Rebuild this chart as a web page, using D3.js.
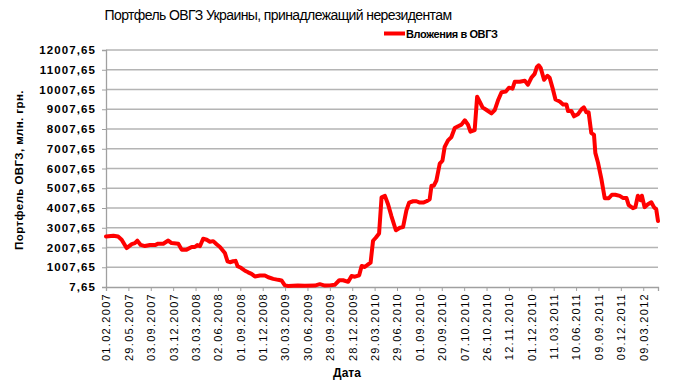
<!DOCTYPE html>
<html><head><meta charset="utf-8">
<script src="https://cdn.jsdelivr.net/npm/d3@7/dist/d3.min.js"></script>
<style>
body{margin:0;background:#fff;}
svg{display:block;font-family:"Liberation Sans",Arial,sans-serif;}
</style></head><body>
<svg id="c" width="693" height="385"></svg>
<script>
const title = "Портфель ОВГЗ Украины, принадлежащий нерезидентам";
const seriesName = "Вложения в ОВГЗ";
const yTitle = "Портфель ОВГЗ, млн. грн.";
const xTitle = "Дата";
const xLabels = ["01.02.2007","29.05.2007","03.09.2007","03.12.2007","03.03.2008","02.06.2008","01.09.2008","01.12.2008","30.03.2009","30.06.2009","28.09.2009","28.12.2009","29.03.2010","29.06.2010","01.09.2010","20.09.2010","07.10.2010","26.10.2010","12.11.2010","01.12.2010","11.03.2011","10.06.2011","09.09.2011","09.12.2011","09.03.2012"];
const yTicks = [7.65,1007.65,2007.65,3007.65,4007.65,5007.65,6007.65,7007.65,8007.65,9007.65,10007.65,11007.65,12007.65];
// position along the category axis (in label intervals) and value, mln UAH
const pos = [0,0.33,0.54,0.70,0.92,1.15,1.29,1.40,1.55,1.74,1.96,2.19,2.33,2.56,2.78,2.93,3.23,3.38,3.60,3.83,3.97,4.08,4.20,4.34,4.50,4.64,4.79,4.94,5.09,
5.31,5.43,5.54,5.68,5.79,5.88,6.03,6.21,6.35,6.50,6.65,6.88,7.10,7.25,7.47,7.69,7.84,7.99,8.14,8.57,8.88,9.33,9.55,9.78,10.00,
10.22,10.42,10.59,10.82,10.97,11.12,11.31,11.42,11.56,11.71,11.82,11.93,12.05,12.20,12.31,12.46,12.60,12.75,12.95,13.13,13.27,13.42,13.54,13.72,13.87,14.02,14.17,14.32,14.46,14.54,14.64,14.76,14.91,
15.03,15.13,15.28,15.43,15.58,15.73,15.88,16.03,16.17,16.28,16.47,16.58,16.70,16.82,17.00,17.22,17.37,17.51,17.67,17.86,18.00,18.16,18.26,18.48,18.71,18.85,19.00,19.15,19.25,19.33,
19.42,19.57,19.72,19.82,19.97,20.08,20.27,20.42,20.57,20.64,20.79,20.91,21.08,21.24,21.35,21.46,21.56,21.68,21.80,21.86,21.98,22.13,22.28,22.46,22.60,22.75,22.95,23.09,23.25,23.35,23.54,23.65,23.76,23.88,23.94,24.06,24.21,24.36,24.48,24.58,24.66];
const values = [2560,2600,2560,2400,1980,2180,2230,2350,2140,2080,2130,2130,2200,2200,2360,2230,2200,1900,1900,2030,2030,2130,2080,2450,2400,2300,2330,2170,2030,
1730,1310,1260,1310,1330,1060,980,830,750,670,540,590,590,500,420,370,340,90,60,80,70,80,150,80,90,
120,350,350,270,560,530,600,1070,1020,1150,1240,2350,2500,2720,4550,4620,4200,3600,2880,3010,3040,3890,4280,4350,4350,4280,4280,4350,4450,5130,5130,5400,6250,
6400,7100,7430,7600,8060,8150,8230,8450,8230,7870,7950,9640,9380,9100,8970,8800,8970,9450,9870,9900,10100,10050,10400,10400,10450,10250,10600,10800,11150,11230,
11100,10500,10700,10600,10000,9500,9400,9250,9250,8920,8920,8650,8750,9000,9100,8850,8850,7800,7720,6800,6300,5480,4500,4500,4680,4680,4620,4520,4520,4150,4000,4050,4630,4400,4630,4050,4200,4300,4050,3950,3350];

const svg = d3.select("#c");
const L = 106, R = 658, T = 50, B = 287;
const x = d3.scaleLinear().domain([0, d3.max(pos)]).range([L, R]);
const y = d3.scaleLinear().domain([7.65, 12007.65]).range([B, T]);
const fmt = v => d3.format(".2f")(v).replace(".", ",");

// gridlines
svg.append("g").selectAll("line").data(yTicks.slice(1)).join("line")
  .attr("x1", L).attr("x2", R).attr("y1", d => y(d)).attr("y2", d => y(d))
  .attr("stroke", "#b4b4b4").attr("stroke-width", 1.3);

// y axis
const yAxis = svg.append("g").attr("transform", `translate(${L},0)`)
  .call(d3.axisLeft(y).tickValues(yTicks).tickFormat(fmt).tickSize(4).tickPadding(6));
yAxis.select(".domain").attr("stroke", "#a0a0a0").attr("stroke-width", 1.3);
yAxis.selectAll(".tick line").attr("stroke", "#a0a0a0");
yAxis.selectAll("text").attr("font-family", "Liberation Sans, Arial, sans-serif")
  .attr("font-size", 11.5).attr("font-weight", "bold").attr("letter-spacing", 1.1).attr("fill", "#000");

// x axis
const xAxis = svg.append("g").attr("transform", `translate(0,${B})`)
  .call(d3.axisBottom(x).tickValues(d3.range(xLabels.length)).tickFormat(i => xLabels[i]).tickSize(4).tickPadding(6));
xAxis.select(".domain").attr("stroke", "#a0a0a0").attr("stroke-width", 1.3);
xAxis.selectAll(".tick line").attr("stroke", "#a0a0a0");
xAxis.selectAll("text").attr("font-family", "Liberation Sans, Arial, sans-serif")
  .attr("font-size", 11).attr("letter-spacing", 1.3).attr("fill", "#000")
  .attr("text-anchor", "end").attr("transform", "rotate(-90)")
  .attr("x", -6).attr("y", 0).attr("dy", "0.35em");

// line
svg.append("path").datum(pos.map((p, i) => [p, values[i]]))
  .attr("fill", "none").attr("stroke", "#ff0000").attr("stroke-width", 4)
  .attr("stroke-linejoin", "round").attr("stroke-linecap", "round")
  .attr("d", d3.line().x(d => x(d[0])).y(d => y(d[1])));

// title
svg.append("text").attr("x", 278).attr("y", 20).attr("text-anchor", "middle")
  .attr("font-size", 14).attr("letter-spacing", -0.6).text(title);

// legend
svg.append("line").attr("x1", 384).attr("x2", 405).attr("y1", 33.5).attr("y2", 33.5)
  .attr("stroke", "#ff0000").attr("stroke-width", 4);
svg.append("text").attr("x", 406).attr("y", 37.5).attr("font-size", 11).attr("font-weight", "bold")
  .attr("letter-spacing", -0.4).text(seriesName);

// axis titles
svg.append("text").attr("transform", "translate(23,170) rotate(-90)").attr("text-anchor", "middle")
  .attr("font-size", 11.5).attr("font-weight", "bold").attr("letter-spacing", 0.4).text(yTitle);
svg.append("text").attr("x", 347).attr("y", 377).attr("text-anchor", "middle")
  .attr("font-size", 12).attr("font-weight", "bold").text(xTitle);
</script>
</body></html>
